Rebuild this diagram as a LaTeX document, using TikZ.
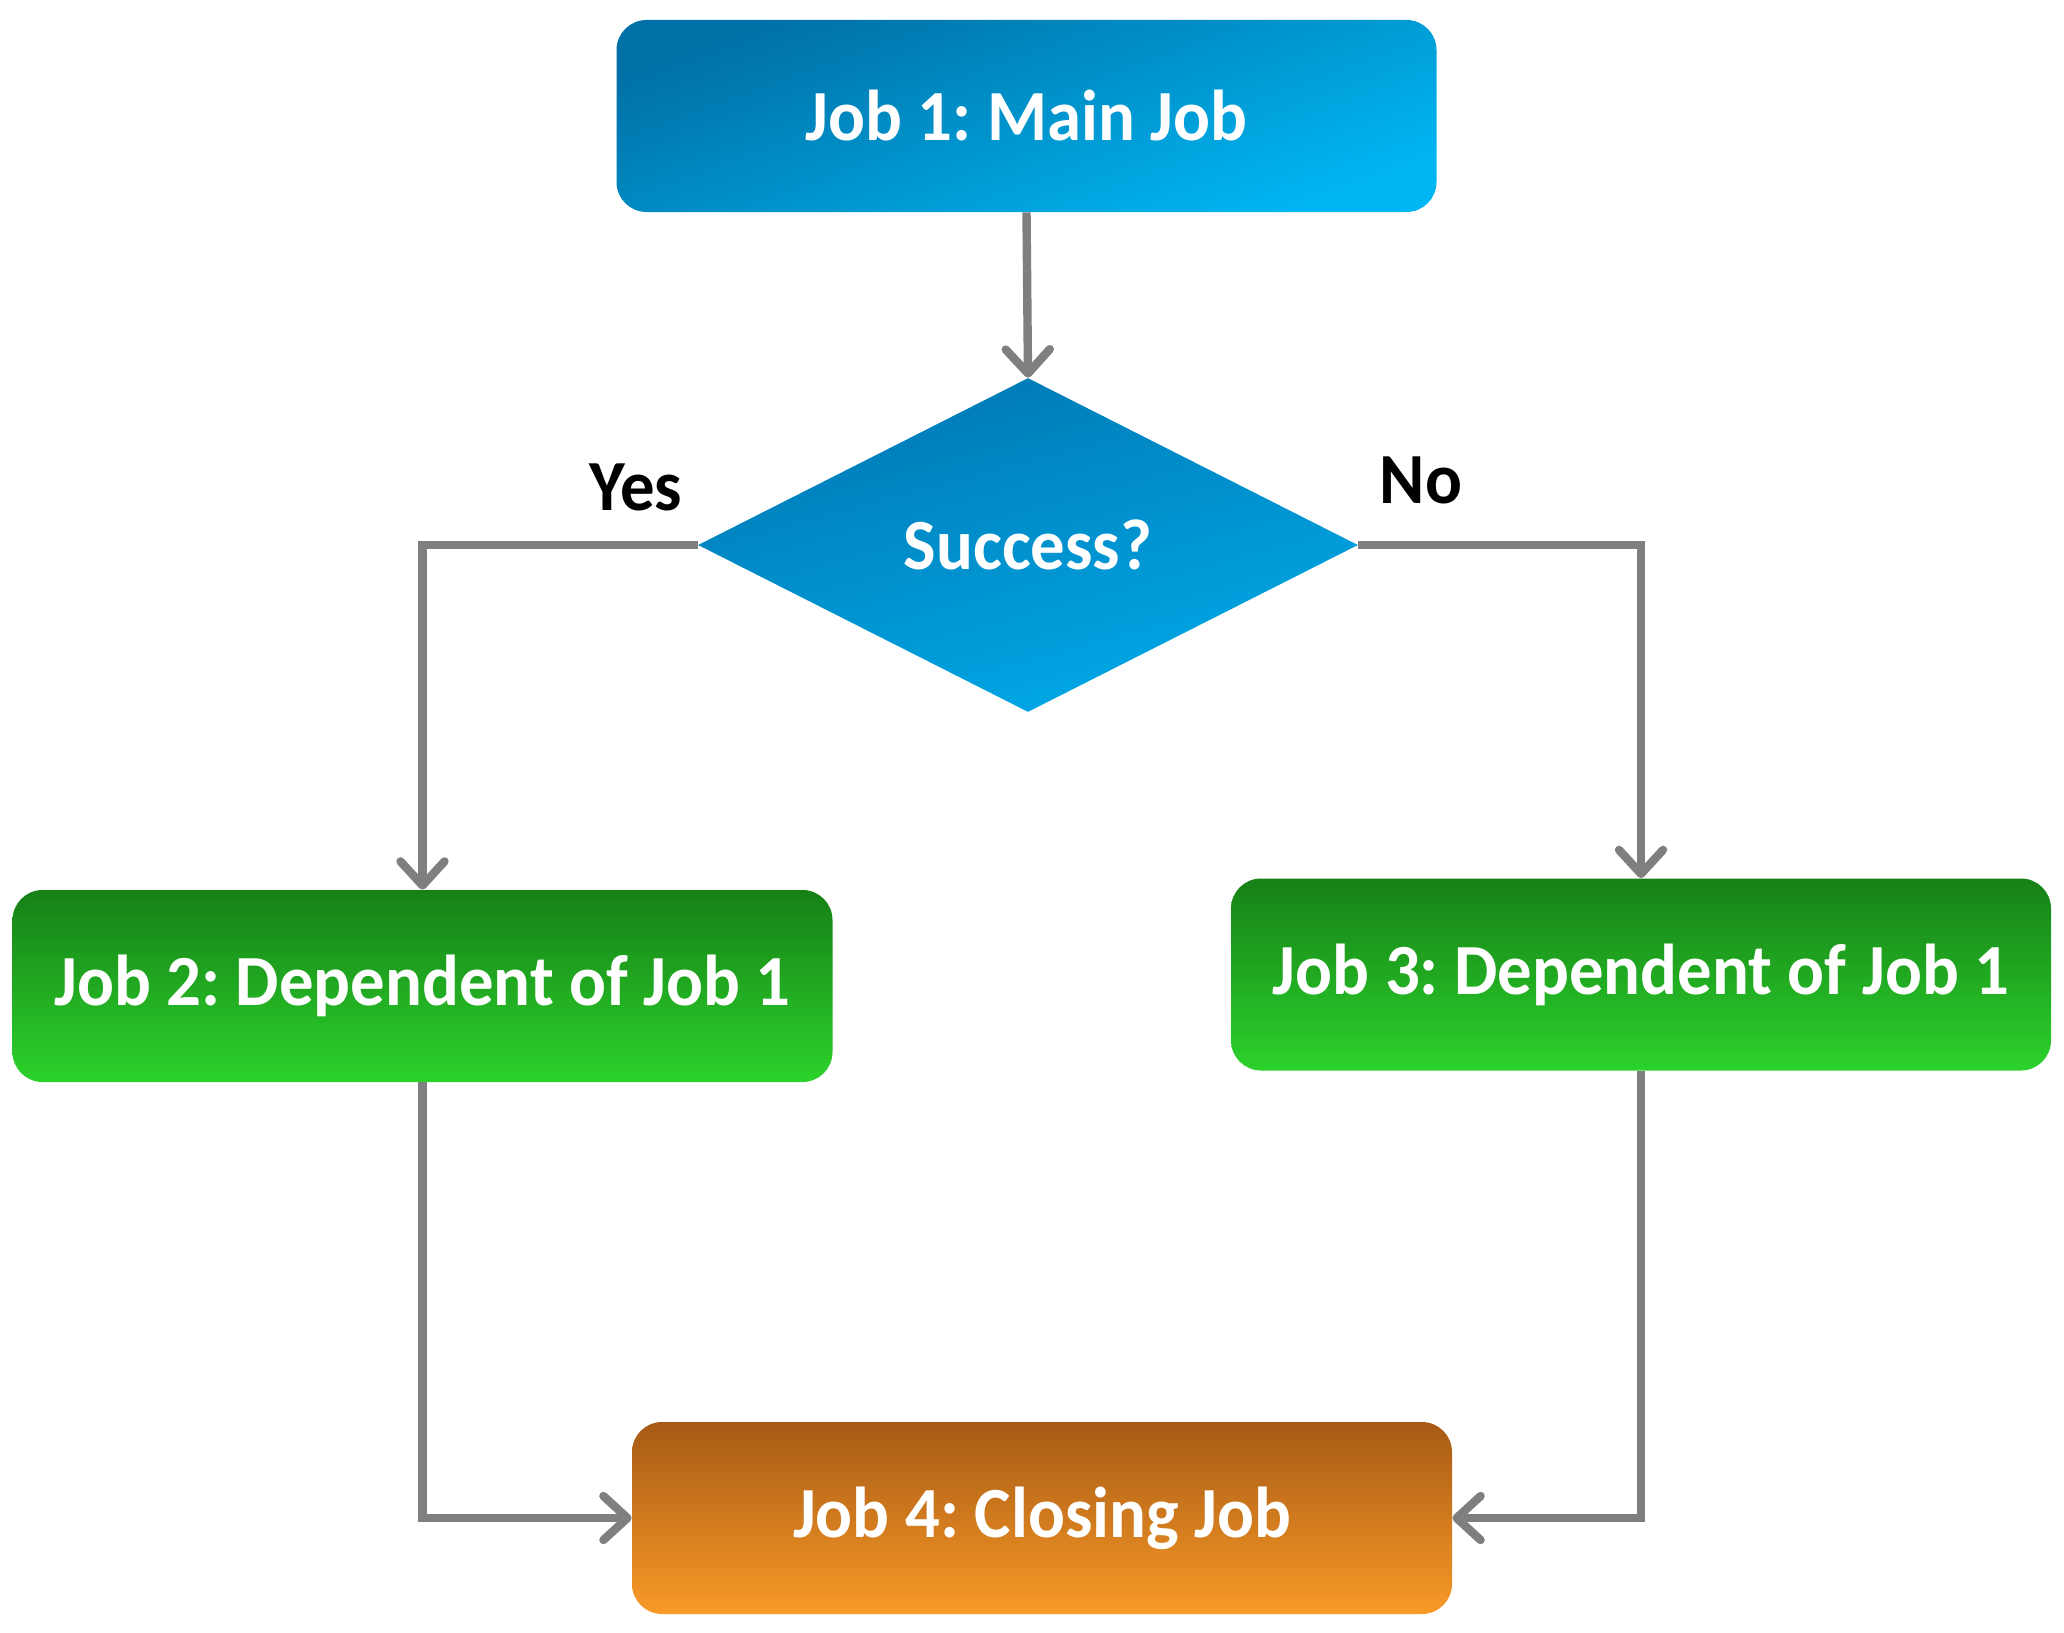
\documentclass[tikz,border=0pt]{standalone}
\usepackage{fontspec}
\setmainfont{Carlito}[FakeStretch=0.955]
\usetikzlibrary{shapes.geometric,arrows.meta}
\frenchspacing
\definecolor{conngray}{HTML}{7F7F7F}
\definecolor{blueA}{HTML}{0070A6}
\definecolor{blueB}{HTML}{00B6F2}
\definecolor{dblueA}{HTML}{0078B4}
\definecolor{dblueB}{HTML}{00AAE8}
\definecolor{greenA}{HTML}{168016}
\definecolor{greenB}{HTML}{2CD22C}
\definecolor{orangeA}{HTML}{A65A14}
\definecolor{orangeB}{HTML}{F99A28}
\tikzset{
  jobbox/.style={rectangle, rounded corners=15pt, minimum width=410pt, minimum height=96pt,
    inner sep=0pt, text=white, font=\fontsize{36}{40}\selectfont\bfseries},
  bluebox/.style={jobbox, top color=blueA, bottom color=blueB, shading angle=20},
  greenbox/.style={jobbox, top color=greenA, bottom color=greenB},
  orangebox/.style={jobbox, top color=orangeA, bottom color=orangeB},
  decision/.style={diamond, minimum width=330pt, minimum height=167pt, inner sep=0pt,
    top color=dblueA, bottom color=dblueB, shading angle=15, text=white,
    font=\fontsize{36}{40}\selectfont\bfseries},
  conn/.style={draw=conngray, line width=4.2pt,
    -{Straight Barb[length=12pt, width=22pt, line cap=round, line join=round]}},
  lbl/.style={text=black, font=\fontsize{36}{40}\selectfont\bfseries, inner sep=0pt}
}
\begin{document}
\begin{tikzpicture}[x=0.5pt, y=-0.5pt]
  \useasboundingbox (0,0) rectangle (2064,1632);
  \node[bluebox] (j1) at (1026.5,116) {Job 1: Main Job};
  \node[decision] (dec) at (1028,545) {Success?};
  \node[greenbox] (j2) at (422.5,986) {Job 2: Dependent of Job 1};
  \node[greenbox] (j3) at (1641,974.5) {Job 3: Dependent of Job 1};
  \node[orangebox] (j4) at (1042,1518) {Job 4: Closing Job};
  \node[lbl] (yes) at (636,487) {Yes};
  \node[lbl] (no) at (1421,480) {No};
  \draw[conn] (j1.south) -- (dec.north);
  \draw[conn] (dec.west) -| (j2.north);
  \draw[conn] (dec.east) -| (j3.north);
  \draw[conn] (j2.south) |- (j4.west);
  \draw[conn] (j3.south) |- (j4.east);
\end{tikzpicture}
\end{document}
